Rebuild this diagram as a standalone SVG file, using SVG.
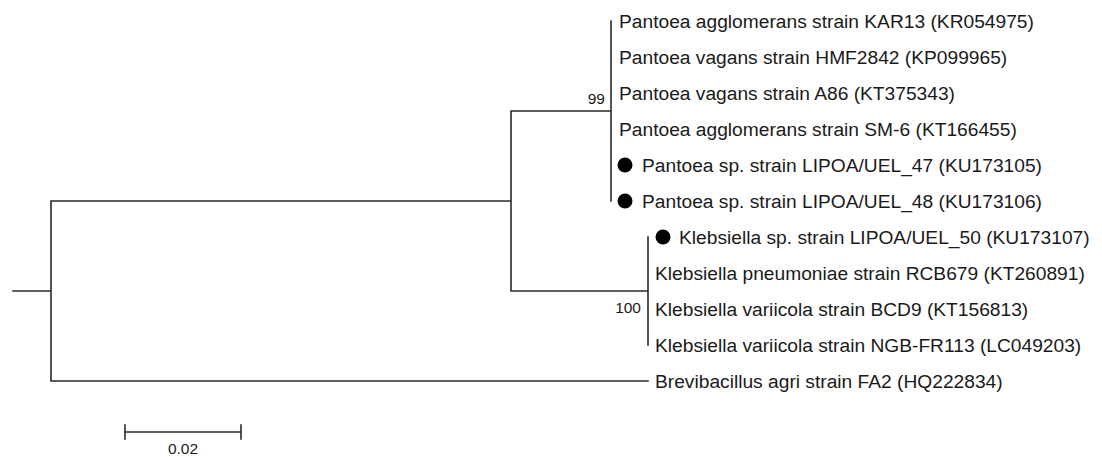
<svg xmlns="http://www.w3.org/2000/svg" width="1102" height="457" viewBox="0 0 1102 457">
<style>
.br{stroke:#2a2a2a;stroke-width:1.6;fill:none;stroke-linecap:square}
.lb{font-family:"Liberation Sans",Arial,sans-serif;font-size:19.2px;fill:#1a1a1a}
.bs{font-family:"Liberation Sans",Arial,sans-serif;font-size:15.5px;fill:#1a1a1a}
.dot{fill:#000}
</style>
<rect width="1102" height="457" fill="#fff"/>
<g id="connectors">
<path class="br" d="M13 291H51M51 201V381M51 201H511M511 111V291M511 111H611M611 21V201M511 291H648M648 237V345M51 381H648"/>
</g>
<g id="bootstrap">
<text class="bs" x="605" y="104" text-anchor="end">99</text>
<text class="bs" x="641" y="313" text-anchor="end">100</text>
</g>
<g id="tip1"><text class="lb" x="619" y="28">Pantoea agglomerans strain KAR13 (KR054975)</text></g>
<g id="tip2"><text class="lb" x="619" y="64">Pantoea vagans strain HMF2842 (KP099965)</text></g>
<g id="tip3"><text class="lb" x="619" y="100">Pantoea vagans strain A86 (KT375343)</text></g>
<g id="tip4"><text class="lb" x="619" y="136">Pantoea agglomerans strain SM-6 (KT166455)</text></g>
<g id="tip5"><circle class="dot" cx="625" cy="165" r="7.5"/><text class="lb" x="642" y="172">Pantoea sp. strain LIPOA/UEL_47 (KU173105)</text></g>
<g id="tip6"><circle class="dot" cx="625" cy="201" r="7.5"/><text class="lb" x="642" y="208">Pantoea sp. strain LIPOA/UEL_48 (KU173106)</text></g>
<g id="tip7"><circle class="dot" cx="663" cy="237" r="7.5"/><text class="lb" x="679" y="244">Klebsiella sp. strain LIPOA/UEL_50 (KU173107)</text></g>
<g id="tip8"><text class="lb" x="655" y="280">Klebsiella pneumoniae strain RCB679 (KT260891)</text></g>
<g id="tip9"><text class="lb" x="655" y="316">Klebsiella variicola strain BCD9 (KT156813)</text></g>
<g id="tip10"><text class="lb" x="655" y="352">Klebsiella variicola strain NGB-FR113 (LC049203)</text></g>
<g id="tip11"><text class="lb" x="655" y="388">Brevibacillus agri strain FA2 (HQ222834)</text></g>
<g id="scalebar">
<path class="br" d="M125 432H241M125 425V439M241 425V439"/>
<text class="bs" x="183" y="454" text-anchor="middle">0.02</text>
</g>
</svg>
